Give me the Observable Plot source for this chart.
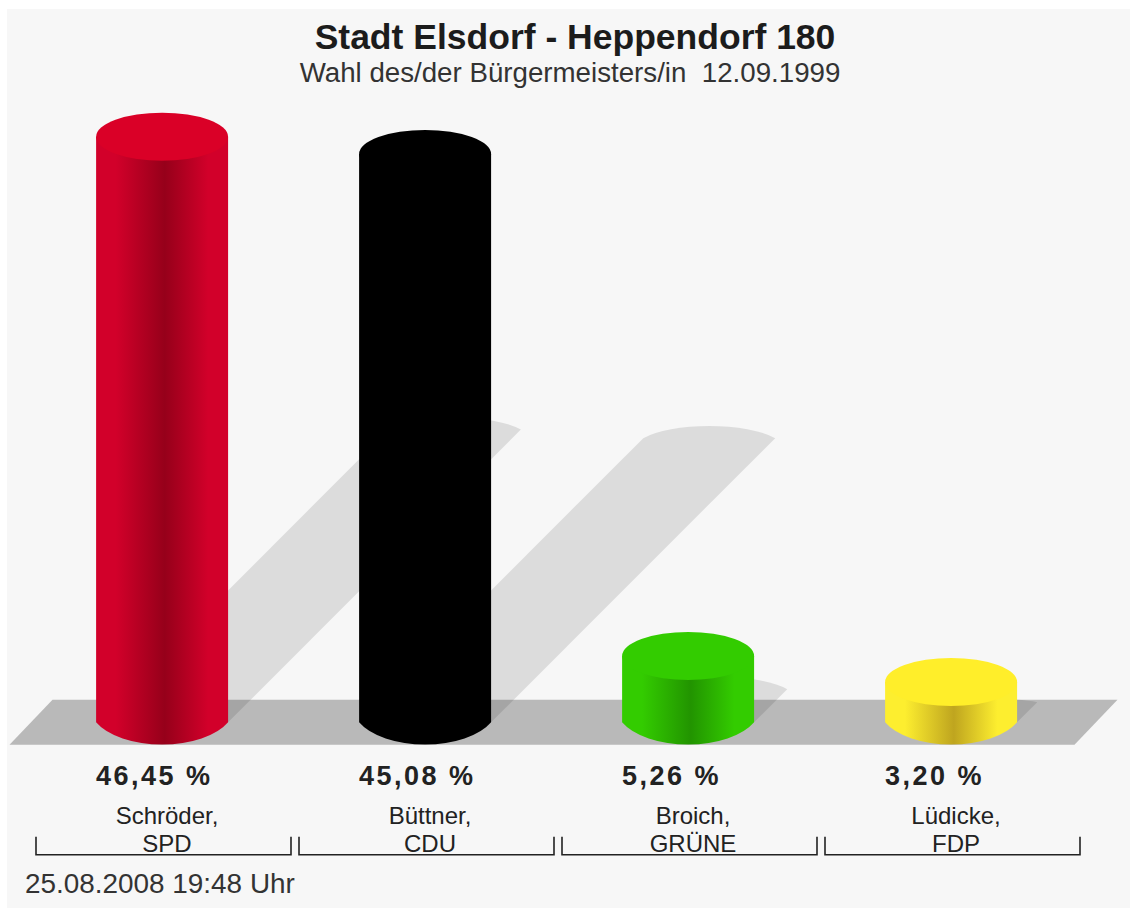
<!DOCTYPE html>
<html>
<head>
<meta charset="utf-8">
<script src="https://cdn.jsdelivr.net/npm/d3@7"></script>
<script src="https://cdn.jsdelivr.net/npm/@observablehq/plot@0.6"></script>
<style>
html,body{margin:0;padding:0;background:#fff;width:1130px;height:908px;overflow:hidden}
#panel{position:absolute;left:7px;top:9px;width:1123px;height:899px;background:#f7f7f7;font-family:"Liberation Sans",Arial,sans-serif;color:#1c1c1c}
#head{height:83px;position:relative;text-align:center}
#title{position:absolute;left:0;width:1136px;top:8px;font-size:35.5px;font-weight:bold;line-height:40px;white-space:nowrap}
#sub{position:absolute;left:0;width:1126px;top:49px;font-size:27.7px;line-height:30px;color:#333;white-space:pre}
#date{position:absolute;left:18px;top:860px;font-size:27.9px;line-height:30px;color:#333;white-space:nowrap}
svg.plot{display:block;background:transparent}
.val text{letter-spacing:2.5px}
</style>
</head>
<body>
<div id="panel">
  <div id="head">
    <div id="title"></div>
    <div id="sub"></div>
  </div>
  <div id="chart"></div>
  <div id="date"></div>
</div>
<script>
const titleText = "Stadt Elsdorf - Heppendorf 180";
const subtitleText = "Wahl des/der Bürgermeisters/in  12.09.1999";
const dateText = "25.08.2008 19:48 Uhr";
const candidates = ["Schröder,\nSPD", "Büttner,\nCDU", "Broich,\nGRÜNE", "Lüdicke,\nFDP"];
const shares = [46.45, 45.08, 5.26, 3.20];
const shareLabels = ["46,45 %", "45,08 %", "5,26 %", "3,20 %"];
const sideEdge = ["#d2002a", "#000000", "#33cc00", "#fdee2f"];
const sideMid = ["#96001a", "#000000", "#229400", "#bfa51f"];
const capColor = ["#da0027", "#000000", "#33cc00", "#ffee2a"];

document.getElementById("title").textContent = titleText;
document.getElementById("sub").textContent = subtitleText;
document.getElementById("date").textContent = dateText;

const rows = candidates.map((name, i) => ({name, share: shares[i], label: shareLabels[i], i}));

const NS = "http://www.w3.org/2000/svg";
function el(tag, attrs, parent) {
  const e = document.createElementNS(NS, tag);
  for (const k in attrs) e.setAttribute(k, attrs[k]);
  if (parent) parent.appendChild(e);
  return e;
}

// Cylinder geometry derives from the band scale and the y scale.
function scene(index, scales) {
  const {x, y} = scales;
  const bw = x.bandwidth();
  const rx = bw * 0.2588;
  const ry = 24;
  const base = y(0);
  const cx = d => x(d.name) + bw / 2 - 1.4;
  const g = el("g", {});
  const defs = el("defs", {}, g);
  rows.forEach(d => {
    const lg = el("linearGradient", {id: "side" + d.i, x1: 0, x2: 1, y1: 0, y2: 0}, defs);
    [[0, sideEdge], [0.15, sideEdge], [0.52, sideMid], [0.85, sideEdge], [1, sideEdge]].forEach(([o, c]) =>
      el("stop", {offset: o, "stop-color": c[d.i]}, lg));
  });
  // floor
  const fl = x(candidates[0]) - 26.5, fr = x(candidates[3]) + bw - 5.5;
  const ft = base - 22.5, fb = base + 22.5;
  el("path", {d: `M${fl},${fb}L${fl + 43},${ft}L${fr + 43},${ft}L${fr},${fb}Z`, fill: "#b9b9b9"}, g);
  // shadows: half the bar's height, thrown at 45 degrees
  rows.forEach(d => {
    const c = cx(d), h = (base - y(d.share)) / 2;
    const arcRy = h < 25 ? 8 : 24;
    el("path", {
      d: `M${c - rx},${base}L${c - rx + h},${base - h}A${rx * 1.15},${arcRy} 0 0 1 ${c + rx + h},${base - h}L${c + rx},${base}Z`,
      fill: "#000", "fill-opacity": 0.105
    }, g);
  });
  // cylinders
  rows.forEach(d => {
    const c = cx(d), t = y(d.share);
    el("path", {
      d: `M${c - rx},${t}L${c - rx},${base}A72,37 0 0 0 ${c + rx},${base}L${c + rx},${t}Z`,
      fill: `url(#side${d.i})`
    }, g);
    el("ellipse", {cx: c, cy: t, rx, ry, fill: capColor[d.i]}, g);
  });
  // brackets
  const by = y(0) + 132.5;
  rows.forEach(d => {
    const a = x(d.name), b = a + bw;
    el("path", {d: `M${a},${by - 18}V${by}H${b}V${by - 18}`, fill: "none", stroke: "#222", "stroke-width": 1.6}, g);
  });
  return g;
}

const chart = Plot.plot({
  width: 1123,
  height: 776,
  marginTop: 0,
  marginBottom: 145.7,
  marginLeft: 0,
  marginRight: 0,
  style: {background: "transparent", fontFamily: "'Liberation Sans',Arial,sans-serif", overflow: "visible"},
  x: {domain: candidates, range: [27.7, 1073], paddingInner: 0.0316, paddingOuter: 0, label: null},
  y: {domain: [0, 50], axis: null},
  marks: [
    Plot.barY(rows, {x: "name", y: "share", render: scene}),
    Plot.text(rows, {
      x: "name", text: "label", frameAnchor: "bottom", textAnchor: "start",
      dx: -68, dy: 62, fontSize: 27, fontWeight: "bold", fill: "#222", className: "val"
    }),
    Plot.axisX({
      anchor: "bottom", tickSize: 0, tickPadding: 0, label: null, fontSize: 24, dx: 3, dy: 81.5,
      lineHeight: 1.17, fill: "#222"
    })
  ]
});
document.getElementById("chart").appendChild(chart);
</script>
</body>
</html>
